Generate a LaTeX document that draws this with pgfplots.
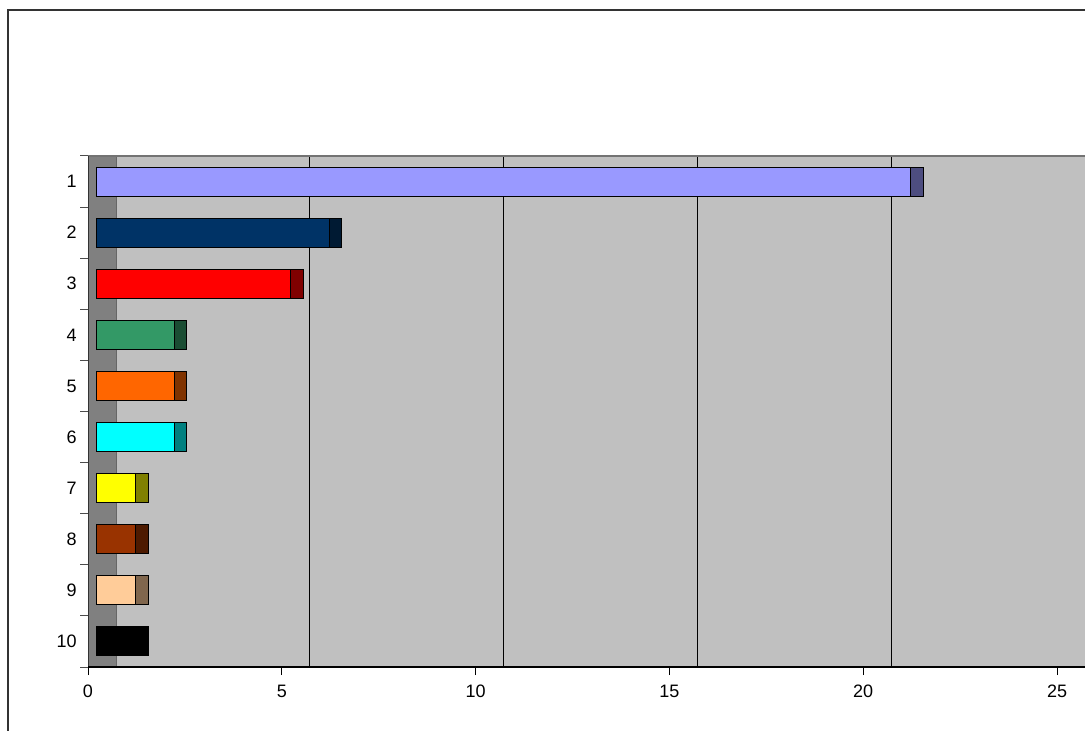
\documentclass[border=0pt]{standalone}
\usepackage{pgfplots}
\pgfplotsset{compat=1.18}
\usepackage{fontspec}
\setmainfont{Liberation Sans}
\definecolor{backc}{HTML}{C0C0C0}
\definecolor{wallc}{HTML}{808080}
\definecolor{fa}{HTML}{9999FF}\definecolor{da}{HTML}{4D4D80}
\definecolor{fb}{HTML}{003366}\definecolor{db}{HTML}{001A33}
\definecolor{fc}{HTML}{FF0000}\definecolor{dc}{HTML}{800000}
\definecolor{fd}{HTML}{339966}\definecolor{dd}{HTML}{1A4D33}
\definecolor{fe}{HTML}{FF6600}\definecolor{de}{HTML}{803300}
\definecolor{ff}{HTML}{00FFFF}\definecolor{df}{HTML}{008080}
\definecolor{fg}{HTML}{FFFF00}\definecolor{dg}{HTML}{808000}
\definecolor{fh}{HTML}{993300}\definecolor{dh}{HTML}{4D1A00}
\definecolor{fi}{HTML}{FFCC99}\definecolor{di}{HTML}{80664D}
\definecolor{fj}{HTML}{000000}\definecolor{dj}{HTML}{000000}
\begin{document}
\begin{tikzpicture}
\useasboundingbox (0,0) rectangle (813.75pt,548.25pt);
\fill[white] (0,0) rectangle (813.75pt,548.25pt);
\draw[line width=1.5pt, color=black!80] (6.15pt,0) -- (6.15pt,540.75pt) -- (813.75pt,540.75pt);
\begin{axis}[
  at={(66pt,48pt)}, anchor=south west,
  scale only axis, width=747.75pt, height=383.25pt,
  xmin=-0.232, xmax=25.49, ymin=0.5, ymax=10.5, y dir=reverse,
  axis background/.style={fill=backc},
  axis line style={draw=none},
  tick align=outside,
  major tick length=6pt,
  xtick={-0.232,4.768,9.768,14.768,19.768,24.768},
  xticklabels={0,5,10,15,20,25},
  x tick style={draw=black, line width=0.75pt},
  xtick pos=bottom,
  ytick={0.5,1.5,2.5,3.5,4.5,5.5,6.5,7.5,8.5,9.5,10.5},
  yticklabels={},
  y tick style={draw=black!70, line width=0.75pt},
  ytick pos=left,
  extra y ticks={1,2,3,4,5,6,7,8,9,10},
  extra y tick labels={1,2,3,4,5,6,7,8,9,10},
  extra y tick style={major tick length=0pt, tick style={draw=none}, y tick label style={xshift=-5pt}},
  tick label style={font=\fontsize{13.5}{16}\selectfont, text=black},
  x tick label style={yshift=-4pt},
  /pgf/number format/assume math mode=true,
  xbar, bar shift=0pt, bar width=21.75pt,
]
\fill[wallc] (axis cs:-0.232,0.5) rectangle (axis cs:0.51,10.5);
\draw[black!60, line width=0.75pt] (axis cs:0.51,0.5) -- (axis cs:0.51,10.5);
\draw[black, line width=0.75pt] (axis cs:5.49,0.5) -- (axis cs:5.49,10.5);
\draw[black, line width=0.75pt] (axis cs:10.49,0.5) -- (axis cs:10.49,10.5);
\draw[black, line width=0.75pt] (axis cs:15.48,0.5) -- (axis cs:15.48,10.5);
\draw[black, line width=0.75pt] (axis cs:20.49,0.5) -- (axis cs:20.49,10.5);
\draw[black!55, line width=1.5pt] (rel axis cs:0,1) -- (rel axis cs:1,1);
\draw[black!80, line width=1.5pt] (rel axis cs:0,0) -- (rel axis cs:0,1);
\draw[black, line width=1pt] (rel axis cs:0,0) -- (rel axis cs:1,0);
% dark ends (value + depth) then front faces (value)
\addplot[fill=da, draw=black, line width=0.75pt] coordinates {(21.32,1)};
\addplot[fill=fa, draw=black, line width=0.75pt] coordinates {(21,1)};
\addplot[fill=db, draw=black, line width=0.75pt] coordinates {(6.32,2)};
\addplot[fill=fb, draw=black, line width=0.75pt] coordinates {(6,2)};
\addplot[fill=dc, draw=black, line width=0.75pt] coordinates {(5.32,3)};
\addplot[fill=fc, draw=black, line width=0.75pt] coordinates {(5,3)};
\addplot[fill=dd, draw=black, line width=0.75pt] coordinates {(2.32,4)};
\addplot[fill=fd, draw=black, line width=0.75pt] coordinates {(2,4)};
\addplot[fill=de, draw=black, line width=0.75pt] coordinates {(2.32,5)};
\addplot[fill=fe, draw=black, line width=0.75pt] coordinates {(2,5)};
\addplot[fill=df, draw=black, line width=0.75pt] coordinates {(2.32,6)};
\addplot[fill=ff, draw=black, line width=0.75pt] coordinates {(2,6)};
\addplot[fill=dg, draw=black, line width=0.75pt] coordinates {(1.32,7)};
\addplot[fill=fg, draw=black, line width=0.75pt] coordinates {(1,7)};
\addplot[fill=dh, draw=black, line width=0.75pt] coordinates {(1.32,8)};
\addplot[fill=fh, draw=black, line width=0.75pt] coordinates {(1,8)};
\addplot[fill=di, draw=black, line width=0.75pt] coordinates {(1.32,9)};
\addplot[fill=fi, draw=black, line width=0.75pt] coordinates {(1,9)};
\addplot[fill=dj, draw=black, line width=0.75pt] coordinates {(1.32,10)};
\addplot[fill=fj, draw=black, line width=0.75pt] coordinates {(1,10)};
\end{axis}
\end{tikzpicture}
\end{document}
